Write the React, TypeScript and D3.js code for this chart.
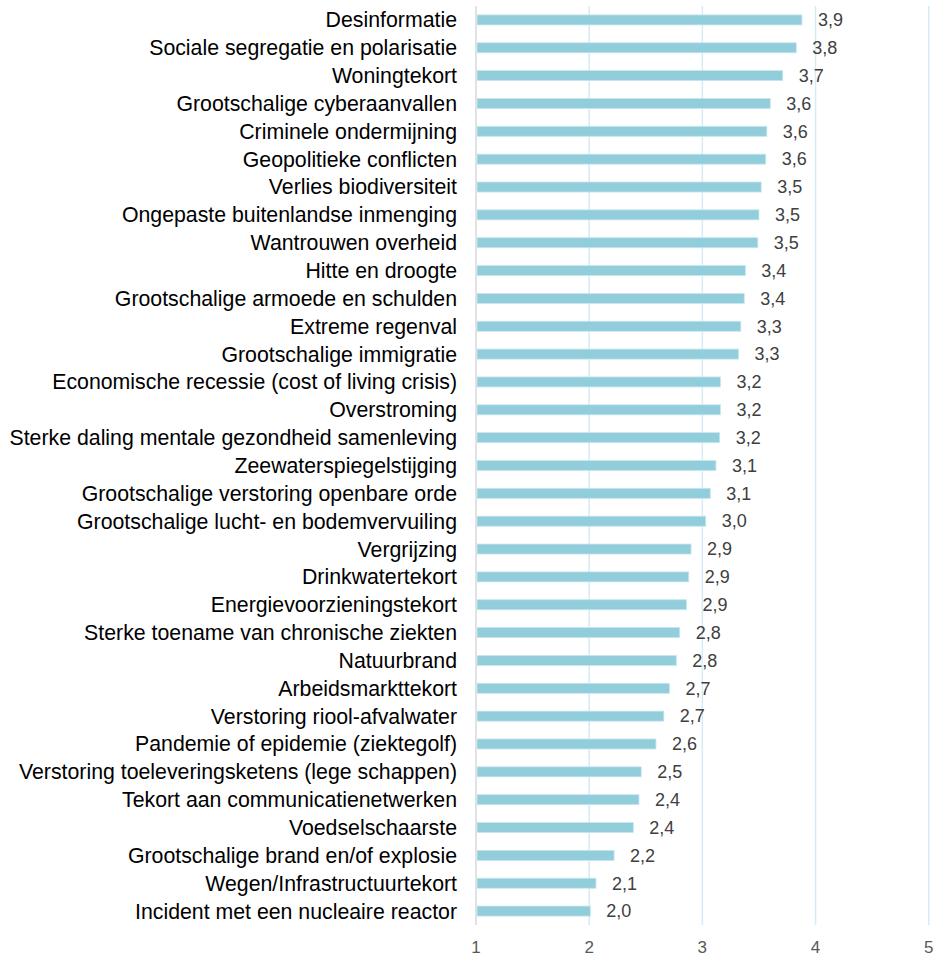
import * as d3 from "d3";
import React from "react";

// risks, sorted as in the source chart (top to bottom)
const categories = [
  "Desinformatie",
  "Sociale segregatie en polarisatie",
  "Woningtekort",
  "Grootschalige cyberaanvallen",
  "Criminele ondermijning",
  "Geopolitieke conflicten",
  "Verlies biodiversiteit",
  "Ongepaste buitenlandse inmenging",
  "Wantrouwen overheid",
  "Hitte en droogte",
  "Grootschalige armoede en schulden",
  "Extreme regenval",
  "Grootschalige immigratie",
  "Economische recessie (cost of living crisis)",
  "Overstroming",
  "Sterke daling mentale gezondheid samenleving",
  "Zeewaterspiegelstijging",
  "Grootschalige verstoring openbare orde",
  "Grootschalige lucht- en bodemvervuiling",
  "Vergrijzing",
  "Drinkwatertekort",
  "Energievoorzieningstekort",
  "Sterke toename van chronische ziekten",
  "Natuurbrand",
  "Arbeidsmarkttekort",
  "Verstoring riool-afvalwater",
  "Pandemie of epidemie (ziektegolf)",
  "Verstoring toeleveringsketens (lege schappen)",
  "Tekort aan communicatienetwerken",
  "Voedselschaarste",
  "Grootschalige brand en/of explosie",
  "Wegen/Infrastructuurtekort",
  "Incident met een nucleaire reactor",
];

const scores = [
  3.88, 3.83, 3.71, 3.6, 3.57, 3.56, 3.52, 3.5, 3.49, 3.38, 3.37, 3.34, 3.32,
  3.16, 3.16, 3.153, 3.12, 3.07, 3.03, 2.9, 2.88, 2.86, 2.8, 2.77, 2.71, 2.66,
  2.59, 2.46, 2.44, 2.39, 2.22, 2.06, 2.01,
];

const xTicks = [1, 2, 3, 4, 5];

const width = 936;
const height = 956;
const font = "Arial, 'Liberation Sans', sans-serif";

const nl = d3.formatLocale({ decimal: ",", thousands: ".", grouping: [3], currency: ["€", ""] });
const fmt = nl.format(".1f");

export default function App() {
  const x = d3.scaleLinear().domain([1, 5]).range([476, 928.7]);
  const y = d3
    .scaleBand<string>()
    .domain(categories)
    .range([6, 925])
    .paddingInner(0.64)
    .paddingOuter(0.32);

  const bw = y.bandwidth();

  return (
    <svg
      width={width}
      height={height}
      style={{ position: "absolute", left: 0, top: 0, background: "#fff", fontFamily: font }}
    >
      {/* gridlines */}
      {xTicks.map((t) => (
        <line
          key={t}
          x1={x(t)}
          x2={x(t)}
          y1={6}
          y2={925}
          stroke={t === 1 ? "#d9d9d9" : "#d6ebf4"}
          strokeWidth={1.5}
        />
      ))}

      {/* bars */}
      {categories.map((c, i) => (
        <g key={c}>
          <rect
            x={x(1) + 1}
            y={y(c)!}
            width={x(scores[i]) - x(1) - 1}
            height={bw}
            fill="#92cddc"
            stroke="#c8e6ee"
            strokeWidth={0.8}
          />
          <text
            x={457}
            y={y(c)! + bw / 2}
            dy="0.35em"
            textAnchor="end"
            fontSize={21.3}
            fill="#000"
          >
            {c}
          </text>
          <text
            x={x(scores[i]) + 16}
            y={y(c)! + bw / 2}
            dy="0.35em"
            fontSize={18}
            fill="#404040"
          >
            {fmt(scores[i])}
          </text>
        </g>
      ))}

      {/* x axis labels */}
      {xTicks.map((t) => (
        <text key={t} x={x(t)} y={953} textAnchor="middle" fontSize={17} fill="#595959">
          {t}
        </text>
      ))}
    </svg>
  );
}
